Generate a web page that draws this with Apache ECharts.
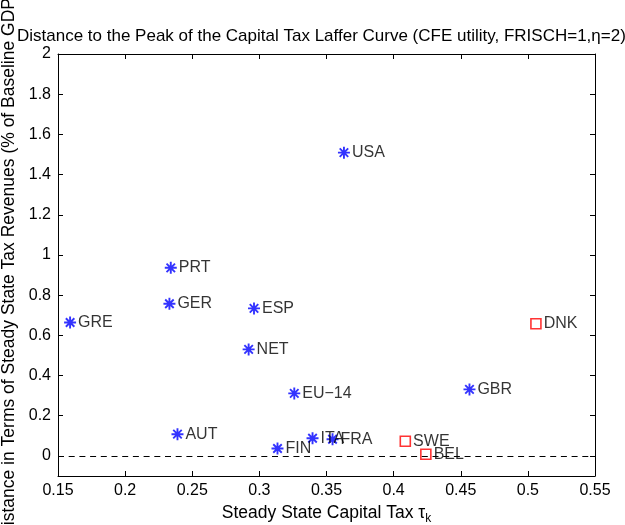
<!DOCTYPE html>
<html>
<head>
<meta charset="utf-8">
<script src="https://cdn.jsdelivr.net/npm/echarts@6/dist/echarts.min.js"></script>
<style>
  body { margin: 0; background: #fff; }
  #chart { width: 625px; height: 525px; }
</style>
</head>
<body>
<div id="chart"></div>
<script>
// countries marked with a blue star
var starNames = ["USA", "PRT", "GER", "ESP", "GRE", "NET", "GBR", "EU\u221214", "AUT", "FIN", "ITA", "FRA"];
var starTau   = [0.363, 0.234, 0.233, 0.296, 0.159, 0.292, 0.4565, 0.326, 0.239, 0.3135, 0.3396, 0.3545];
var starDist  = [1.509, 0.936, 0.757, 0.734, 0.664, 0.530, 0.331, 0.311, 0.108, 0.037, 0.088, 0.083];

// countries marked with a red square
var squareNames = ["DNK", "SWE", "BEL"];
var squareTau   = [0.506, 0.4087, 0.424];
var squareDist  = [0.658, 0.073, 0.0085];

var yTicks = [0, 0.2, 0.4, 0.6, 0.8, 1, 1.2, 1.4, 1.6, 1.8, 2];

function toData(names, xs, ys) {
  return names.map(function (n, i) { return { name: n, value: [xs[i], ys[i]] }; });
}

var starPath = "path://M12 0 L12 24 M0 12 L24 12 M3.5 3.5 L20.5 20.5 M3.5 20.5 L20.5 3.5";
var font = "Liberation Sans";

var tickStyle = { show: true, inside: true, length: 5, lineStyle: { color: "#000", width: 1 } };
var lineStyle = { show: true, onZero: false, lineStyle: { color: "#000", width: 1 } };

var option = {
  animation: false,
  backgroundColor: "#fff",
  textStyle: { fontFamily: font },
  title: {
    text: "Distance to the Peak of the Capital Tax Laffer Curve (CFE utility, FRISCH=1,\u03b7=2)",
    left: 17,
    top: 28,
    padding: 0,
    textStyle: { fontSize: 17, fontWeight: "normal", color: "#000", fontFamily: font }
  },
  grid: { left: 58, top: 54, right: 30, bottom: 49, containLabel: false, outerBoundsMode: "none" },
  xAxis: [
    {
      type: "value", min: 0.15, max: 0.55, interval: 0.05, position: "bottom",
      axisLine: lineStyle, axisTick: tickStyle, splitLine: { show: false },
      axisLabel: { color: "#000", fontSize: 16, margin: 7, fontFamily: font },
      name: "{n|Steady State Capital Tax }{t|\u03c4}{s|k}",
      nameLocation: "middle", nameGap: 24,
      nameTextStyle: {
        color: "#000",
        rich: {
          n: { fontSize: 17.5, fontFamily: font, color: "#000" },
          t: { fontSize: 17.5, fontFamily: font, color: "#000" },
          s: { fontSize: 12, fontFamily: font, color: "#000", padding: [12, 0, 0, 0] }
        }
      }
    },
    {
      type: "value", min: 0.15, max: 0.55, interval: 0.05, position: "top",
      axisLine: lineStyle, axisTick: tickStyle, splitLine: { show: false },
      axisLabel: { show: false }
    }
  ],
  yAxis: [
    {
      type: "value", min: -0.1, max: 2, position: "left",
      axisLine: lineStyle,
      axisTick: Object.assign({ customValues: yTicks }, tickStyle),
      splitLine: { show: false },
      axisLabel: { color: "#000", fontSize: 16, margin: 7, fontFamily: font, customValues: yTicks },
      name: "Distance in Terms of Steady State Tax Revenues (% of Baseline GDP)",
      nameLocation: "middle", nameGap: 36,
      nameTextStyle: { color: "#000", fontSize: 17.5, fontFamily: font }
    },
    {
      type: "value", min: -0.1, max: 2, position: "right",
      axisLine: lineStyle,
      axisTick: Object.assign({ customValues: yTicks }, tickStyle),
      splitLine: { show: false },
      axisLabel: { show: false }
    }
  ],
  series: [
    {
      type: "scatter",
      symbol: starPath,
      symbolSize: 12,
      itemStyle: { color: "#0000ff", borderColor: "#0000ff", borderWidth: 1.9 },
      label: {
        show: true, position: "right", distance: 1, color: "#000", fontSize: 16, fontFamily: font,
        formatter: function (p) { return p.name; }
      },
      data: toData(starNames, starTau, starDist),
      markLine: {
        silent: true,
        symbol: ["none", "none"],
        label: { show: false },
        lineStyle: { color: "#000", width: 1, type: [6, 4.7] },
        data: [{ yAxis: 0 }]
      }
    },
    {
      type: "scatter",
      symbol: "rect",
      symbolSize: 10,
      itemStyle: { color: "rgba(0,0,0,0)", borderColor: "#ff0000", borderWidth: 1.6 },
      label: {
        show: true, position: "right", distance: 2, color: "#000", fontSize: 16, fontFamily: font,
        formatter: function (p) { return p.name; }
      },
      data: toData(squareNames, squareTau, squareDist)
    }
  ]
};

var myChart = echarts.init(document.getElementById("chart"));
myChart.setOption(option);
</script>
</body>
</html>
